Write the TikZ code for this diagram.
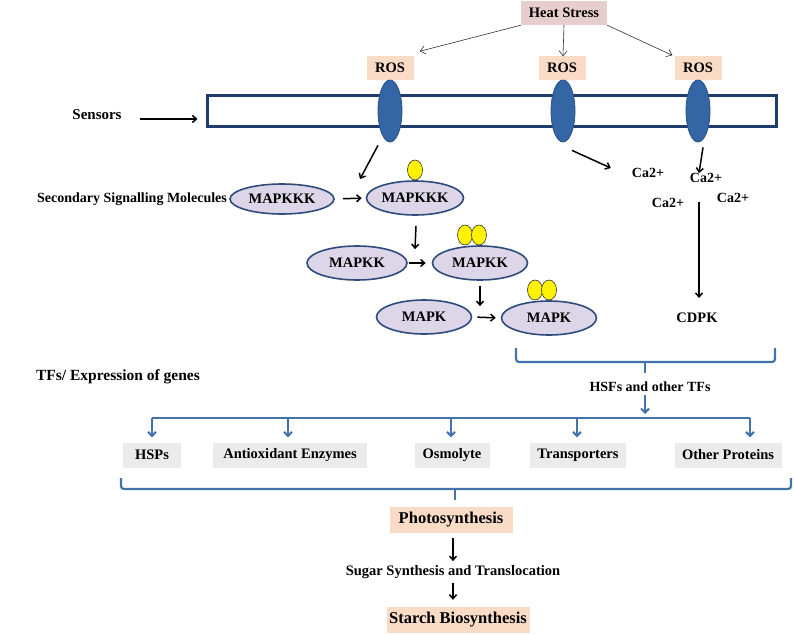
\documentclass[tikz,border=0pt]{standalone}
\usepackage{fontspec}
\setmainfont{Liberation Serif}
\usetikzlibrary{shapes.geometric,arrows.meta}
\definecolor{hsfill}{HTML}{E8CDCD}
\definecolor{peach}{HTML}{FADBC6}
\definecolor{greybox}{HTML}{EBEBEB}
\definecolor{navy}{HTML}{1F3C6A}
\definecolor{sensblue}{HTML}{3466A6}
\definecolor{lav}{HTML}{DCD6E8}
\definecolor{mapedge}{HTML}{2F4B7C}
\definecolor{steel}{HTML}{4472AC}
\newcommand\myfs[1]{\fontsize{#1}{#1}\selectfont\bfseries}
\tikzset{
  txt/.style={font=\myfs{14.5}, inner sep=0pt},
  boxn/.style={txt, inner sep=0pt},
  mapell/.style={ellipse, draw=mapedge, line width=1.6pt, fill=lav, inner sep=0pt, txt, minimum height=34pt},
  yel/.style={ellipse, draw=black!80, line width=0.6pt, fill=yellow, minimum width=15pt, minimum height=20pt, inner sep=0pt},
  sens/.style={ellipse, draw=sensblue!80!black, line width=0.8pt, fill=sensblue, minimum width=24pt, minimum height=62pt, inner sep=0pt},
  thinarr/.style={draw=black!80, line width=0.6pt, -{Straight Barb[length=5pt,width=8pt]}},
  barr/.style={draw=black, line width=1.5pt, -{Straight Barb[length=4pt,width=7pt]}},
  blarr/.style={draw=steel, line width=2pt, -{Straight Barb[length=4pt,width=8pt]}},
  brk/.style={draw=steel, line width=2.2pt, rounded corners=3pt},
}
\begin{document}
\begin{tikzpicture}[x=1pt,y=-1pt]
\useasboundingbox (0,0) rectangle (794,634);
\fill[white] (0,0) rectangle (794,634);

% Heat stress and ROS
\node[boxn, fill=hsfill, minimum width=86pt, minimum height=24pt] (hs) at (564,13) {Heat Stress};
\node[boxn, fill=peach, minimum width=47pt, minimum height=23pt] (ros1) at (390,68) {ROS};
\node[boxn, fill=peach, minimum width=47pt, minimum height=23pt] (ros2) at (562,68) {ROS};
\node[boxn, fill=peach, minimum width=47pt, minimum height=23pt] (ros3) at (698,68) {ROS};
\draw[thinarr] (hs.south west) -- ([shift={(6,-5)}]ros1.north east);
\draw[thinarr] (hs.south) -- ([shift={(1,0)}]ros2.north);
\draw[thinarr] (hs.south east) -- ([shift={(-2,-1)}]ros3.north west);

% membrane
\node[draw=navy, line width=3pt, minimum width=569pt, minimum height=31pt, inner sep=0pt] (mem) at (491.5,110.5) {};
\node[sens] (s1) at (390,111) {};
\node[sens] (s2) at (563,111) {};
\node[sens] (s3) at (698,111) {};

% left labels
\node[txt, font=\myfs{15}] (senslab) at (97,115) {Sensors};
\draw[barr] ([shift={(18,4)}]senslab.east) -- ([shift={(-8,8.5)}]mem.west);
\node[txt, font=\myfs{14}] (seclab) at (132,199) {Secondary Signalling Molecules};
\node[txt, font=\myfs{15.5}] (tflab) at (118,377) {TFs/ Expression of genes};

% MAPK cascade
\node[yel] (y1) at (415,170) {};
\node[yel] (y2a) at (465,235) {};
\node[yel] (y2b) at (479,235) {};
\node[yel] (y3a) at (535,290) {};
\node[yel] (y3b) at (549,290) {};
\node[mapell, minimum width=104pt, minimum height=30pt] (k1) at (282,199) {MAPKKK};
\node[mapell, minimum width=97pt] (k2) at (415,198) {MAPKKK};
\node[mapell, minimum width=100pt] (kk1) at (357,263) {MAPKK};
\node[mapell, minimum width=95pt] (kk2) at (480,263) {MAPKK};
\node[mapell, minimum width=95pt] (kp1) at (424,317) {MAPK};
\node[mapell, minimum width=95pt] (kp2) at (549,318) {MAPK};
\draw[barr] ([shift={(-12,3)}]s1.south) -- ([shift={(-55,-19)}]k2.center);
\draw[barr, shorten <=8pt, shorten >=4pt] (k1.east) -- (k2.west);
\draw[barr] ([shift={(1,10)}]k2.south) -- ([shift={(0,4)}]kk2.north -| k2.south);
\draw[barr, shorten <=1pt, shorten >=6pt] (kk1.east) -- (kk2.west);
\draw[barr] ([shift={(0,5)}]kk2.south) -- ([shift={(0,6)}]kp2.north -| kk2.south);
\draw[barr, shorten <=5pt, shorten >=5pt] (kp1.east) -- (kp2.west);

% calcium
\node[txt, font=\myfs{14}] (ca1) at (648,173) {Ca2+};
\node[txt, font=\myfs{14}] (ca2) at (706,178) {Ca2+};
\node[txt, font=\myfs{14}] (ca3) at (668,203) {Ca2+};
\node[txt, font=\myfs{14}] (ca4) at (733,198) {Ca2+};
\node[txt] (cdpk) at (697,318) {CDPK};
\coordinate (cdtop) at (699,202);
\draw[barr] ([shift={(9,8)}]s2.south) -- ([shift={(-21,-5)}]ca1.west);
\draw[barr] ([shift={(5,5)}]s3.south) -- ([shift={(-7,0)}]ca2.north);
\draw[barr] (cdtop) -- (cdtop |- 0,298);

% upper bracket
\coordinate (ub) at (645,373);
\draw[brk] (516,348) -- (516,362) -- (775,362) -- (775,348);
\draw[steel, line width=2.2pt] (645,362) -- (ub);
\node[txt, font=\myfs{14}] (hsf) at (650,387) {HSFs and other TFs};
\coordinate (dist) at (645,418);
\draw[blarr] (645,395) -- ([shift={(0,-4)}]dist);
\draw[steel, line width=2pt] (152,418) -- (750,418);

% gene boxes
\node[boxn, fill=greybox, minimum width=58pt, minimum height=25pt] (hsp) at (152,455) {HSPs};
\node[boxn, fill=greybox, minimum width=154pt, minimum height=25pt] (aox) at (290,455) {Antioxidant Enzymes};
\node[boxn, fill=greybox, minimum width=75pt, minimum height=25pt] (osm) at (452,455) {Osmolyte};
\node[boxn, fill=greybox, minimum width=96pt, minimum height=25pt] (trn) at (578,455) {Transporters};
\node[boxn, fill=greybox, minimum width=107pt, minimum height=25pt] (oth) at (728,455) {Other Proteins};
\foreach \b/\x in {hsp/152, aox/288, osm/451, trn/577, oth/750}
  \draw[blarr] (\x,418) -- ([shift={(0,-5)}]\b.north -| \x,0);

% lower bracket
\draw[brk] (121,478) -- (121,489) -- (791,489) -- (791,478);
\draw[steel, line width=2.2pt] (455,489) -- (455,500);

% bottom chain
\node[boxn, fill=peach, minimum width=123pt, minimum height=26pt, font=\myfs{16.5}] (photo) at (451,520) {Photosynthesis};
\node[txt, font=\myfs{14.5}] (sugar) at (453,572) {Sugar Synthesis and Translocation};
\node[boxn, fill=peach, minimum width=143pt, minimum height=26pt, font=\myfs{16.5}] (starch) at (458,620) {Starch Biosynthesis};
\draw[barr] ([shift={(2,5)}]photo.south) -- ([shift={(0,-4)}]sugar.north -| 453,0);
\draw[barr] ([shift={(0,4)}]sugar.south) -- ([shift={(0,-7)}]starch.north -| sugar.south);
\end{tikzpicture}
\end{document}
